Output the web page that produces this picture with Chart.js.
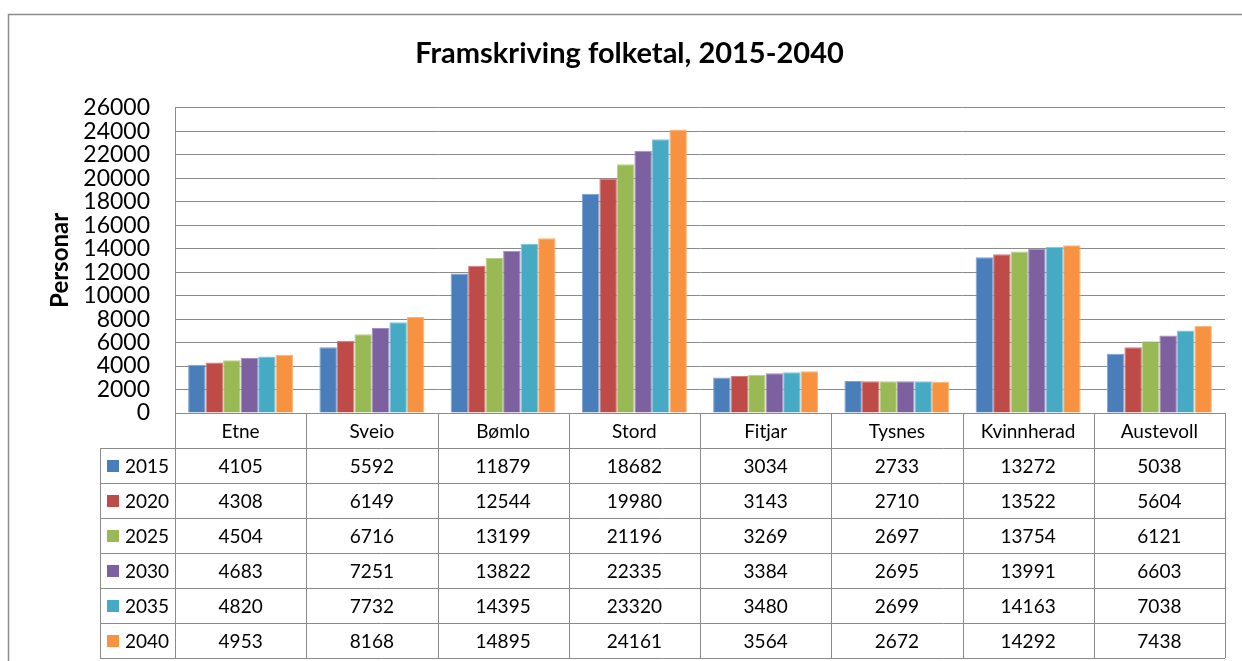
<!DOCTYPE html>
<html>
<head>
<meta charset="utf-8">
<script src="https://cdn.jsdelivr.net/npm/chart.js@4.4.1/dist/chart.umd.min.js"></script>
<style>
  html, body { margin: 0; padding: 0; background: #ffffff; }
  canvas { display: block; }
</style>
</head>
<body>
<canvas id="c" width="1242" height="661"></canvas>
<script>
const categories = ['Etne', 'Sveio', 'Bømlo', 'Stord', 'Fitjar', 'Tysnes', 'Kvinnherad', 'Austevoll'];
const years = ['2015', '2020', '2025', '2030', '2035', '2040'];
const v2015 = [4105, 5592, 11879, 18682, 3034, 2733, 13272, 5038];
const v2020 = [4308, 6149, 12544, 19980, 3143, 2710, 13522, 5604];
const v2025 = [4504, 6716, 13199, 21196, 3269, 2697, 13754, 6121];
const v2030 = [4683, 7251, 13822, 22335, 3384, 2695, 13991, 6603];
const v2035 = [4820, 7732, 14395, 23320, 3480, 2699, 14163, 7038];
const v2040 = [4953, 8168, 14895, 24161, 3564, 2672, 14292, 7438];
const yTickLabels = ['0', '2000', '4000', '6000', '8000', '10000', '12000', '14000', '16000', '18000', '20000', '22000', '24000', '26000'];
const seriesValues = [v2015, v2020, v2025, v2030, v2035, v2040];
const colors = ['#4A7EBB', '#BE4B48', '#98B954', '#7D60A0', '#46AAC5', '#F69240'];
const borders = ['#7CA3D2', '#D47C7A', '#B8D08A', '#A38DC0', '#80C6D9', '#F9B47A'];
const yTitle = 'Personar';
const chartTitle = 'Framskriving folketal, 2015-2040';

Chart.defaults.font.family = 'Lato, "Open Sans", sans-serif';
Chart.defaults.color = '#000000';

const GRID = '#8a8a8a';
const ROW_H = 35;
const TABLE_FONT = '19px Lato, "Open Sans", sans-serif';

const tablePlugin = {
  id: 'dataTable',
  afterDraw(chart) {
    const ctx = chart.ctx;
    const xs = chart.scales.x;
    const area = chart.chartArea;
    const n = categories.length;
    const colW = (area.right - area.left) / n;
    const top = area.bottom;
    const legendLeft = 100;
    const bottom = top + ROW_H * (years.length + 1);
    ctx.save();
    // outer chart frame
    ctx.strokeStyle = '#8c8c8c';
    ctx.lineWidth = 1.5;
    ctx.strokeRect(8.5, 14.5, 1400, 800);

    ctx.strokeStyle = GRID;
    ctx.lineWidth = 1;
    ctx.beginPath();
    for (let r = 1; r <= years.length + 1; r++) {
      const y = Math.round(top + r * ROW_H) + 0.5;
      ctx.moveTo(legendLeft, y);
      ctx.lineTo(area.right, y);
    }
    for (let i = 0; i <= n; i++) {
      const x = Math.round(area.left + i * colW) + 0.5;
      ctx.moveTo(x, top);
      ctx.lineTo(x, bottom);
    }
    const xl = legendLeft + 0.5;
    ctx.moveTo(xl, top + ROW_H);
    ctx.lineTo(xl, bottom);
    ctx.stroke();

    ctx.fillStyle = '#000';
    ctx.font = TABLE_FONT;
    ctx.textAlign = 'center';
    ctx.textBaseline = 'middle';
    for (let i = 0; i < n; i++) {
      const cx = xs.getPixelForValue(i);
      ctx.fillText(categories[i], cx, top + ROW_H / 2 + 1);
    }
    for (let s = 0; s < years.length; s++) {
      const cy = top + ROW_H * (s + 1) + ROW_H / 2 + 1;
      ctx.fillStyle = colors[s];
      ctx.fillRect(107, Math.round(cy - 6.5), 12, 12);
      ctx.fillStyle = '#000';
      ctx.textAlign = 'left';
      ctx.fillText(years[s], 125, cy);
      ctx.textAlign = 'center';
      for (let i = 0; i < n; i++) {
        const cx = xs.getPixelForValue(i);
        ctx.fillText(String(seriesValues[s][i]), cx, cy);
      }
    }
    ctx.restore();
  }
};

new Chart(document.getElementById('c'), {
  type: 'bar',
  data: {
    labels: categories,
    datasets: years.map((y, i) => ({
      label: y,
      data: seriesValues[i],
      backgroundColor: colors[i],
      borderColor: borders[i],
      borderWidth: 1,
      borderSkipped: 'bottom',
      categoryPercentage: 0.8,
      barPercentage: 1.0
    }))
  },
  options: {
    responsive: false,
    animation: false,
    devicePixelRatio: 1,
    layout: { padding: { left: 34, right: 17, top: 0, bottom: 248 } },
    plugins: {
      legend: { display: false },
      tooltip: { enabled: false },
      title: {
        display: true,
        text: chartTitle,
        font: { size: 29, weight: 'bold' },
        color: '#000',
        padding: { top: 36, bottom: 37 }
      }
    },
    scales: {
      x: {
        display: false
      },
      y: {
        min: 0,
        max: 26000,
        afterFit(scale) { scale.width = 141; },
        ticks: {
          stepSize: 2000,
          autoSkip: false,
          padding: 25,
          font: { size: 23, lineHeight: 1.0 },
          color: '#000',
          callback: (value, index) => yTickLabels[index]
        },
        grid: { color: GRID, drawTicks: false, lineWidth: 1 },
        border: { display: true, color: GRID },
        title: {
          display: true,
          text: yTitle,
          font: { size: 24, weight: 'bold' },
          color: '#000',
          padding: { top: 12, bottom: 0 }
        }
      }
    }
  },
  plugins: [tablePlugin]
});
</script>
</body>
</html>
